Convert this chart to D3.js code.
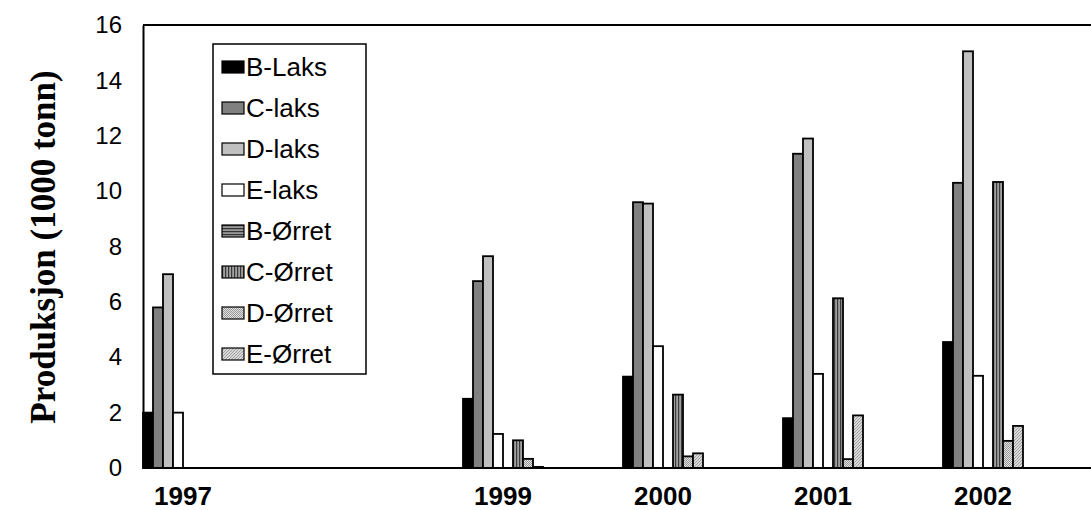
<!DOCTYPE html>
<html><head><meta charset="utf-8">
<script src="https://cdn.jsdelivr.net/npm/d3@7"></script>
<style>body{margin:0;background:#fff}svg{display:block}</style>
</head><body>
<svg id="c" width="1091" height="510"></svg>
<script>
const years = ["1997","1998","1999","2000","2001","2002"];
const yearLabels = ["1997","","1999","2000","2001","2002"];
const seriesNames = ["B-Laks","C-laks","D-laks","E-laks","B-Ørret","C-Ørret","D-Ørret","E-Ørret"];
const bLaks  = [2.0, null, 2.5, 3.3, 1.8, 4.55];
const cLaks  = [5.8, null, 6.75, 9.6, 11.35, 10.3];
const dLaks  = [7.0, null, 7.65, 9.55, 11.9, 15.05];
const eLaks  = [2.0, null, 1.23, 4.4, 3.4, 3.33];
const bOrret = [null, null, null, null, null, null];
const cOrret = [null, null, 1.0, 2.65, 6.13, 10.33];
const dOrret = [null, null, 0.33, 0.42, 0.32, 0.98];
const eOrret = [null, null, 0.04, 0.53, 1.9, 1.52];
const yTicks = [0,2,4,6,8,10,12,14,16];

const seriesValues = [bLaks,cLaks,dLaks,eLaks,bOrret,cOrret,dOrret,eOrret];
const fills = ["#000","#808080","#c0c0c0","#fff","url(#pB)","url(#pC)","url(#pD)","url(#pE)"];

const svg = d3.select("#c");
const defs = svg.append("defs");
let p = defs.append("pattern").attr("id","pB").attr("width",4).attr("height",3).attr("patternUnits","userSpaceOnUse");
p.append("rect").attr("width",4).attr("height",3).attr("fill","#9a9a9a");
p.append("rect").attr("width",4).attr("height",1.2).attr("fill","#333");
p = defs.append("pattern").attr("id","pC").attr("width",3).attr("height",4).attr("patternUnits","userSpaceOnUse");
p.append("rect").attr("width",3).attr("height",4).attr("fill","#a0a0a0");
p.append("rect").attr("width",1.2).attr("height",4).attr("fill","#3a3a3a");
p = defs.append("pattern").attr("id","pD").attr("width",2).attr("height",2).attr("patternUnits","userSpaceOnUse");
p.append("rect").attr("width",2).attr("height",2).attr("fill","#e0e0e0");
p.append("rect").attr("width",1).attr("height",1).attr("fill","#999");
p.append("rect").attr("x",1).attr("y",1).attr("width",1).attr("height",1).attr("fill","#999");
p = defs.append("pattern").attr("id","pE").attr("width",3).attr("height",3).attr("patternUnits","userSpaceOnUse");
p.append("rect").attr("width",3).attr("height",3).attr("fill","#d8d8d8");
p.append("path").attr("d","M0,3 L3,0 M-1,1 L1,-1 M2,4 L4,2").attr("stroke","#9a9a9a").attr("stroke-width",0.9);

const mLeft = 143, mTop = 25, mBottom = 468, bandW = 160;
const x = d3.scaleBand().domain(years).range([mLeft, mLeft + bandW*years.length]).paddingInner(0).paddingOuter(0);
const xs = d3.scaleBand().domain(seriesNames).range([0, 80]).padding(0);
const y = d3.scaleLinear().domain([0,16]).range([mBottom, mTop]);

svg.append("line").attr("x1",mLeft).attr("x2",1091).attr("y1",mTop).attr("y2",mTop).attr("stroke","#000").attr("stroke-width",2);

seriesNames.forEach((s,i)=>{
  const vals = seriesValues[i];
  svg.append("g").selectAll("rect").data(years.map((yr,j)=>({yr, v: vals[j]})).filter(d=>d.v!=null))
    .join("rect")
    .attr("x", d=> x(d.yr) + xs(s))
    .attr("y", d=> y(d.v))
    .attr("width", xs.bandwidth())
    .attr("height", d=> y(0) - y(d.v))
    .attr("fill", fills[i])
    .attr("stroke","#000").attr("stroke-width",1.8);
});

const yAxis = svg.append("g").attr("transform",`translate(${mLeft},0)`)
  .call(d3.axisLeft(y).tickValues(yTicks).tickSize(0).tickPadding(21));
yAxis.select(".domain").attr("stroke","#000").attr("stroke-width",2);
yAxis.selectAll("text").attr("font-family","Liberation Sans, Arial, sans-serif").attr("font-size",24).attr("fill","#000");

const xAxis = svg.append("g").attr("transform",`translate(0,${mBottom})`)
  .call(d3.axisBottom(x).tickSize(0).tickPadding(19).tickFormat((d,i)=>yearLabels[i]));
xAxis.select(".domain").remove();
svg.append("line").attr("x1",mLeft).attr("x2",1091).attr("y1",mBottom).attr("y2",mBottom).attr("stroke","#000").attr("stroke-width",2);
xAxis.selectAll(".tick").attr("transform", d=>`translate(${x(d)+40},0)`);
xAxis.selectAll("text").attr("font-family","Liberation Sans, Arial, sans-serif").attr("font-size",26).attr("font-weight","bold").attr("fill","#000");

svg.append("text").attr("transform","translate(55,247) rotate(-90)")
  .attr("text-anchor","middle").attr("font-family","Liberation Serif, Times New Roman, serif")
  .attr("font-weight","bold").attr("font-size",35).text("Produksjon (1000 tonn)");

const lg = svg.append("g");
lg.append("rect").attr("x",213).attr("y",44).attr("width",153).attr("height",330).attr("fill","#fff").attr("stroke","#000").attr("stroke-width",1.5);
seriesNames.forEach((s,i)=>{
  const cy = 67 + i*41;
  lg.append("rect").attr("x",222).attr("y",cy-6).attr("width",22).attr("height",12).attr("fill",fills[i]).attr("stroke","#000").attr("stroke-width",1.2);
  lg.append("text").attr("x",246).attr("y",cy).attr("dy","0.36em").attr("font-family","Liberation Sans, Arial, sans-serif").attr("font-size",26).text(s);
});
</script>
</body></html>
